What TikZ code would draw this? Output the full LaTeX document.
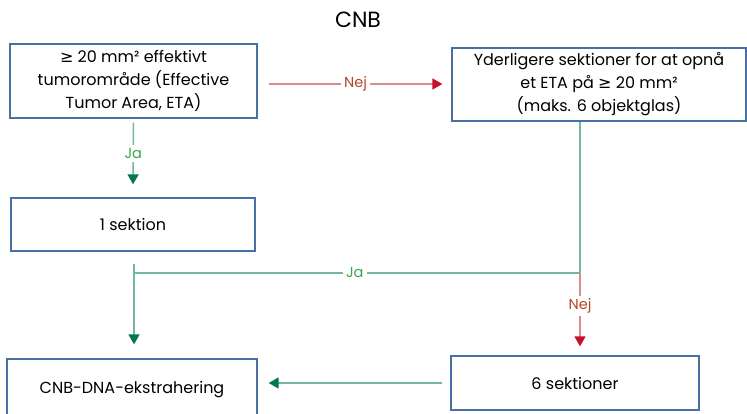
\documentclass[tikz,border=0pt]{standalone}
\usepackage{fontspec}
\setmainfont{Poppins}
\newfontfamily\symf{DejaVu Sans}
\usetikzlibrary{arrows.meta}
\definecolor{boxblue}{HTML}{4A6FA5}
\definecolor{gline}{HTML}{72B89C}
\definecolor{ghead}{HTML}{00784A}
\definecolor{rline}{HTML}{D98A93}
\definecolor{rhead}{HTML}{C3122F}
\definecolor{gtext}{HTML}{3FA34D}
\definecolor{rtext}{HTML}{B5462C}
\newcommand{\mygeq}{{\symf ≥}}
\begin{document}
\begin{tikzpicture}[x=1pt,y=-1pt,
  box/.style={draw=boxblue,line width=1.3pt,fill=white,align=center,inner sep=0pt,font=\fontsize{16}{23}\selectfont},
  gconn/.style={draw=gline,line width=1.5pt},
  rconn/.style={draw=rline,line width=1.5pt},
  garrow/.style={gconn,-{Triangle[width=11pt,length=10pt,color=ghead]}},
  rarrow/.style={rconn,-{Triangle[width=11pt,length=10pt,color=rhead]}},
  glbl/.style={fill=white,inner sep=3pt,text=gtext,font=\fontsize{14.5}{16}\selectfont},
  rlbl/.style={fill=white,inner sep=3pt,text=rtext,font=\fontsize{14.5}{16}\selectfont}]
\useasboundingbox (0,0) rectangle (747,414);
\node (title) at (358,20) {\fontsize{22}{24}\selectfont CNB};
\node[box,minimum width=247pt,minimum height=74pt] (b1) at (133.5,81) {\mygeq{} 20 mm² effektivt\\tumorområde (Effective\\Tumor Area, ETA)};
\node[box,minimum width=294pt,minimum height=73pt] (b2) at (599,84.5) {Yderligere sektioner for at opnå\\et ETA på \mygeq{} 20 mm²\\(maks. 6 objektglas)};
\node[box,minimum width=244pt,minimum height=53pt] (b3) at (133,224.5) {1 sektion};
\node[box,minimum width=250pt,minimum height=62pt] (b4) at (132,390) {CNB-DNA-ekstrahering};
\node[box,minimum width=248pt,minimum height=54pt] (b5) at (575,383) {6 sektioner};
\coordinate (top2) at (580,122);
\coordinate (junc) at (580,273);
\coordinate (juncL) at (134,273);
% b1 -> b3 (Ja)
\draw[garrow] ([yshift=-4pt]b1.south) -- node[glbl,pos=0.5]{Ja} ([yshift=13pt]b3.north);
% b1 -> b2 (Nej)
\draw[rarrow] ([xshift=11pt]b1.east |- 0,84) -- node[rlbl]{Nej} ([xshift=-9pt]b2.west |- 0,84);
% b2 down to junction
\draw[gconn] (top2) -- (junc);
\draw[gconn] (junc) -- node[glbl,pos=0.505]{Ja} (juncL);
% junction -> b5 (Nej)
\draw[rarrow] (junc) -- node[rlbl,pos=0.45]{Nej} ([yshift=9pt]b5.north -| junc);
% b3 -> b4
\draw[garrow] ([yshift=-12pt]b3.south -| juncL) -- ([yshift=14pt]b4.north -| juncL);
% b5 -> b4
\draw[garrow] ([xshift=-8pt]b5.west) -- ([xshift=11pt]b4.east |- b5.west);
\end{tikzpicture}
\end{document}
